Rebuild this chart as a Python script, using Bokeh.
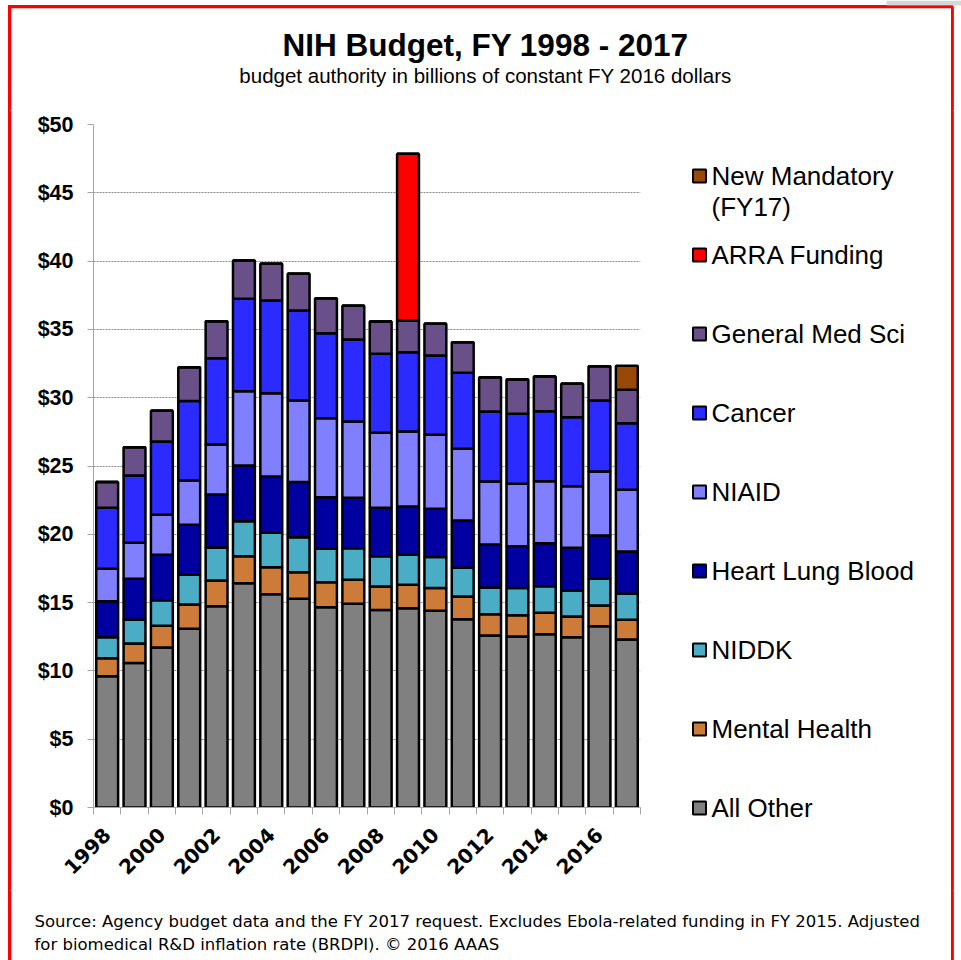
import math
from bokeh.plotting import figure
from bokeh.layouts import column, row
from bokeh.models import Range1d, FixedTicker, ColumnDataSource
from bokeh.core.properties import value
from bokeh.embed import file_html
from bokeh.resources import INLINE

# ---------------- data (billions of constant FY2016 dollars) ----------------
YEARS = [1998, 1999, 2000, 2001, 2002, 2003, 2004, 2005, 2006, 2007,
         2008, 2009, 2010, 2011, 2012, 2013, 2014, 2015, 2016, 2017]
ALL_OTHER = [9.61, 10.57, 11.71, 13.08, 14.74, 16.42, 15.62, 15.28, 14.66, 14.91,
             14.45, 14.59, 14.40, 13.79, 12.59, 12.52, 12.69, 12.47, 13.27, 12.30]
MENTAL_HEALTH = [1.32, 1.43, 1.59, 1.78, 1.88, 1.98, 1.97, 1.95, 1.83, 1.76,
                 1.73, 1.71, 1.66, 1.66, 1.56, 1.56, 1.56, 1.51, 1.52, 1.44]
NIDDK = [1.54, 1.74, 1.88, 2.17, 2.42, 2.56, 2.52, 2.56, 2.45, 2.31,
         2.22, 2.20, 2.27, 2.10, 1.96, 1.98, 1.95, 1.91, 1.95, 1.90]
HEART_LUNG_BLOOD = [2.63, 3.00, 3.32, 3.67, 3.87, 4.08, 4.12, 4.03, 3.78, 3.69,
                    3.54, 3.54, 3.54, 3.46, 3.14, 3.07, 3.15, 3.12, 3.17, 3.10]
NIAID = [2.37, 2.64, 2.93, 3.24, 3.66, 5.44, 6.10, 5.98, 5.78, 5.59,
         5.49, 5.49, 5.41, 5.25, 4.62, 4.57, 4.54, 4.51, 4.69, 4.52]
CANCER = [4.47, 4.92, 5.36, 5.81, 6.32, 6.76, 6.79, 6.58, 6.22, 6.00,
          5.78, 5.80, 5.81, 5.56, 5.12, 5.12, 5.12, 5.05, 5.20, 4.87]
GEN_MED_SCI = [1.88, 2.08, 2.25, 2.48, 2.71, 2.80, 2.68, 2.69, 2.56, 2.47,
               2.37, 2.32, 2.32, 2.24, 2.51, 2.51, 2.54, 2.45, 2.51, 2.45]
ARRA = [0, 0, 0, 0, 0, 0, 0, 0, 0, 0,
        0, 12.20, 0, 0, 0, 0, 0, 0, 0, 0]
NEW_MANDATORY = [0, 0, 0, 0, 0, 0, 0, 0, 0, 0,
                 0, 0, 0, 0, 0, 0, 0, 0, 0, 1.75]

SERIES_KEYS = ["all_other", "mental_health", "niddk", "hlb", "niaid",
               "cancer", "gms", "arra", "new_mand"]
SERIES_NAMES = ["All Other", "Mental Health", "NIDDK", "Heart Lung Blood", "NIAID",
                "Cancer", "General Med Sci", "ARRA Funding", "New Mandatory\n(FY17)"]
SERIES_COLORS = ["#808080", "#CD7B38", "#4BACC6", "#0000A0", "#8080FF",
                 "#2B2BFF", "#6A5088", "#FF0000", "#984807"]

X_LABEL_YEARS = [1998, 2000, 2002, 2004, 2006, 2008, 2010, 2012, 2014, 2016]
X_LABELS = ["1998", "2000", "2002", "2004", "2006", "2008", "2010", "2012", "2014", "2016"]
Y_TICKS = [0, 5, 10, 15, 20, 25, 30, 35, 40, 45, 50]
Y_TICK_LABELS = ["$0", "$5", "$10", "$15", "$20", "$25", "$30", "$35", "$40", "$45", "$50"]

TITLE = "NIH Budget, FY 1998 - 2017"
SUBTITLE = "budget authority in billions of constant FY 2016 dollars"
FOOTER_1 = ("Source: Agency budget data and the FY 2017 request. Excludes Ebola-related "
            "funding in FY 2015. Adjusted")
FOOTER_2 = "for biomedical R&D inflation rate (BRDPI). \u00a9 2016 AAAS"

# ---------------- page geometry (page pixels) ----------------
PAGE_W, PAGE_H = 961, 960
TOP_H = 110          # header band 0..110
MID_H = 780          # chart band 110..890
BOT_H = PAGE_H - TOP_H - MID_H
STRIP_W = 12
MAIN_W = 648         # 12..660
LEG_W = PAGE_W - STRIP_W - MAIN_W
FRAME_L, FRAME_R, FRAME_T, FRAME_B = 93, 640, 124, 807
RED_L, RED_R, RED_T = 9.5, 952, 6.5
RED = "#FF0000"


def no_align(f):
    f.align = "start"
    try:
        f.frame_align = False
    except AttributeError:
        pass


def blank(w, h, x0, x1, y_top, y_bot):
    f = figure(width=w, height=h, frame_width=w, frame_height=h,
               x_range=Range1d(x0, x1), y_range=Range1d(y_bot, y_top),
               output_backend="svg", toolbar_location=None, min_border=0,
               x_axis_location=None, y_axis_location=None, title=None)
    f.grid.visible = False
    f.outline_line_color = None
    f.background_fill_color = None
    f.border_fill_color = None
    no_align(f)
    return f


def add_text(f, x, y, txt, font="Liberation Sans", size="16px", style="normal",
             align="left", baseline="middle"):
    f.text(x=[x], y=[y], text=[txt], text_font=value(font), text_font_size=value(size),
           text_font_style=style, text_align=align, text_baseline=baseline,
           text_color="black")


# ---------------- header ----------------
top = blank(PAGE_W, TOP_H, 0, PAGE_W, 0, TOP_H)
top.quad(left=[886], right=[PAGE_W], top=[0], bottom=[5], fill_color="#D6D6D6", line_color=None)
top.segment(x0=[RED_L, RED_L, RED_R], y0=[RED_T, RED_T, RED_T],
            x1=[RED_R, RED_L, RED_R], y1=[RED_T, TOP_H, TOP_H],
            line_color=RED, line_width=2.5)
add_text(top, 485, 44.5, TITLE, size="31.5px", style="bold", align="center")
add_text(top, 485, 75, SUBTITLE, size="20.5px", align="center")

# ---------------- left strip ----------------
strip = blank(STRIP_W, MID_H, 0, STRIP_W, TOP_H, TOP_H + MID_H)
strip.segment(x0=[RED_L], y0=[TOP_H], x1=[RED_L], y1=[TOP_H + MID_H],
              line_color=RED, line_width=2.5)

# ---------------- main chart ----------------
source = ColumnDataSource(dict(
    year=YEARS, all_other=ALL_OTHER, mental_health=MENTAL_HEALTH, niddk=NIDDK,
    hlb=HEART_LUNG_BLOOD, niaid=NIAID, cancer=CANCER, gms=GEN_MED_SCI,
    arra=ARRA, new_mand=NEW_MANDATORY))

p = figure(width=MAIN_W, height=MID_H,
           frame_width=FRAME_R - FRAME_L, frame_height=FRAME_B - FRAME_T,
           output_backend="svg", toolbar_location=None,
           x_range=Range1d(YEARS[0] - 0.5, YEARS[-1] + 0.5), y_range=Range1d(0, 50),
           min_border_left=FRAME_L - STRIP_W, min_border_right=STRIP_W + MAIN_W - FRAME_R,
           min_border_top=FRAME_T - TOP_H, min_border_bottom=TOP_H + MID_H - FRAME_B,
           title=None)
no_align(p)
p.outline_line_color = None
p.background_fill_color = None
p.border_fill_color = None

p.vbar_stack(SERIES_KEYS, x="year", width=0.8, source=source,
             fill_color=SERIES_COLORS, line_color="black", line_width=2.5)

yax = p.yaxis[0]
yax.ticker = FixedTicker(ticks=Y_TICKS)
yax.major_label_overrides = {t: s for t, s in zip(Y_TICKS, Y_TICK_LABELS)}
yax.axis_line_color = "#A6A6A6"
yax.major_tick_line_color = "#A6A6A6"
yax.major_tick_out = 6
yax.major_tick_in = 0
yax.minor_tick_out = 0
yax.minor_tick_in = 0
yax.major_label_standoff = 14
yax.major_label_text_font = "Liberation Sans"
yax.major_label_text_font_style = "bold"
yax.major_label_text_font_size = "21.5px"
yax.major_label_text_color = "black"

xax = p.xaxis[0]
xax.ticker = FixedTicker(ticks=X_LABEL_YEARS,
                         minor_ticks=[y - 0.5 for y in YEARS] + [YEARS[-1] + 0.5])
xax.major_label_overrides = {t: s for t, s in zip(X_LABEL_YEARS, X_LABELS)}
xax.major_label_orientation = math.pi / 4
xax.axis_line_color = "#A6A6A6"
xax.major_tick_out = 0
xax.major_tick_in = 0
xax.minor_tick_out = 7
xax.minor_tick_in = 0
xax.minor_tick_line_color = "#A6A6A6"
xax.major_label_standoff = 17
xax.major_label_text_font = "DejaVu Sans"
xax.major_label_text_font_style = "bold"
xax.major_label_text_font_size = "20px"
xax.major_label_text_color = "black"

p.xgrid.visible = False
p.ygrid.grid_line_color = "#8C8C8C"
p.ygrid.grid_line_dash = "2 1"
p.ygrid.grid_line_width = 1

# ---------------- legend panel ----------------
x_leg0 = STRIP_W + MAIN_W
leg = blank(LEG_W, MID_H, x_leg0, PAGE_W, TOP_H, TOP_H + MID_H)
leg.segment(x0=[RED_R], y0=[TOP_H], x1=[RED_R], y1=[TOP_H + MID_H],
            line_color=RED, line_width=2.5)
leg_names = list(reversed(SERIES_NAMES))
leg_colors = list(reversed(SERIES_COLORS))
leg_y = [175.5 + 79 * i for i in range(len(leg_names))]
leg.rect(x=[699] * len(leg_names), y=leg_y, width=13, height=13,
         fill_color=leg_colors, line_color="black", line_width=2)
for name, yy in zip(leg_names, leg_y):
    for k, ln in enumerate(name.split("\n")):
        add_text(leg, 711, yy + 31 * k, ln, size="26px")

# ---------------- footer ----------------
bot = blank(PAGE_W, BOT_H, 0, PAGE_W, TOP_H + MID_H, PAGE_H)
bot.segment(x0=[RED_L, RED_R], y0=[TOP_H + MID_H] * 2, x1=[RED_L, RED_R], y1=[PAGE_H] * 2,
            line_color=RED, line_width=2.5)
add_text(bot, 34, 920.5, FOOTER_1, font="DejaVu Sans", size="16.5px")
add_text(bot, 34, 944, FOOTER_2, font="DejaVu Sans", size="16.5px")

mid = row(strip, p, leg)
mid.align = "start"
layout = column(top, mid, bot)
# red frame drawn behind the (transparent) figures
layout.styles = {
    "background-color": "white",
    "background-image": ("linear-gradient(#FF0000, #FF0000), linear-gradient(#FF0000, #FF0000), "
                         "linear-gradient(#FF0000, #FF0000)"),
    "background-size": "2.5px 956px, 2.5px 956px, 945px 2.5px",
    "background-position": "8.25px 5.25px, 950.75px 5.25px, 8.25px 5.25px",
    "background-repeat": "no-repeat",
}
open("out.html", "w").write(file_html(layout, INLINE))
